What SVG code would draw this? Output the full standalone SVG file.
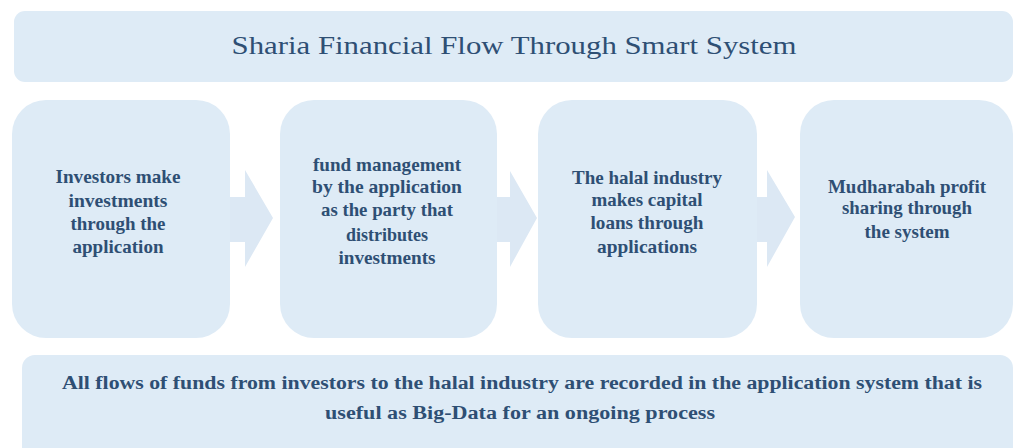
<svg xmlns="http://www.w3.org/2000/svg" width="1015" height="448" viewBox="0 0 1015 448">
<style>
.box{fill:#deebf6;}
.arr{fill:#dce8f4;}
.t{font-family:'Liberation Serif','Times New Roman',Tinos,serif;fill:#2e4f74;text-anchor:middle;}
.nt{font-size:19px;font-weight:bold;}
.title{font-size:25px;}
.bt{font-size:18.5px;font-weight:bold;}
</style>
<rect width="1015" height="448" fill="#ffffff"/>
<g id="title">
<rect class="box" x="14" y="11" width="999" height="71" rx="11"/>
<text class="t title" x="514" y="54" textLength="565" lengthAdjust="spacingAndGlyphs">Sharia Financial Flow Through Smart System</text>
</g>
<g id="connectors">
<polygon class="arr" points="230,197 245,197 245,170 273,218 245,267 245,242 230,242"/>
<polygon class="arr" points="497,197 510,197 510,171 537,218 510,267 510,242 497,242"/>
<polygon class="arr" points="757,197 767,197 767,170 795,217 767,267 767,242 757,242"/>
</g>
<g id="node1">
<rect class="box" x="12" y="100" width="218" height="238" rx="34"/>
<text class="t nt" x="118" y="183" textLength="125" lengthAdjust="spacingAndGlyphs">Investors make</text>
<text class="t nt" x="118" y="207" textLength="99" lengthAdjust="spacingAndGlyphs">investments</text>
<text class="t nt" x="118" y="230" textLength="95" lengthAdjust="spacingAndGlyphs">through the</text>
<text class="t nt" x="118" y="253" textLength="91" lengthAdjust="spacingAndGlyphs">application</text>
</g>
<g id="node2">
<rect class="box" x="280" y="100" width="217" height="238" rx="34"/>
<text class="t nt" x="387" y="171" textLength="148" lengthAdjust="spacingAndGlyphs">fund management</text>
<text class="t nt" x="387" y="193" textLength="150" lengthAdjust="spacingAndGlyphs">by the application</text>
<text class="t nt" x="387" y="216" textLength="132" lengthAdjust="spacingAndGlyphs">as the party that</text>
<text class="t nt" x="387" y="241" textLength="82" lengthAdjust="spacingAndGlyphs">distributes</text>
<text class="t nt" x="387" y="264" textLength="97" lengthAdjust="spacingAndGlyphs">investments</text>
</g>
<g id="node3">
<rect class="box" x="538" y="100" width="219" height="238" rx="34"/>
<text class="t nt" x="647" y="184" textLength="150" lengthAdjust="spacingAndGlyphs">The halal industry</text>
<text class="t nt" x="647" y="206" textLength="111" lengthAdjust="spacingAndGlyphs">makes capital</text>
<text class="t nt" x="647" y="229" textLength="113" lengthAdjust="spacingAndGlyphs">loans through</text>
<text class="t nt" x="647" y="253" textLength="100" lengthAdjust="spacingAndGlyphs">applications</text>
</g>
<g id="node4">
<rect class="box" x="800" y="100" width="213" height="238" rx="34"/>
<text class="t nt" x="907" y="193" textLength="158" lengthAdjust="spacingAndGlyphs">Mudharabah profit</text>
<text class="t nt" x="907" y="214" textLength="130" lengthAdjust="spacingAndGlyphs">sharing through</text>
<text class="t nt" x="907" y="238" textLength="85" lengthAdjust="spacingAndGlyphs">the system</text>
</g>
<g id="note">
<rect class="box" x="22" y="355" width="991" height="110" rx="13"/>
<text class="t bt" x="522" y="389" textLength="920" lengthAdjust="spacingAndGlyphs">All flows of funds from investors to the halal industry are recorded in the application system that is</text>
<text class="t bt" x="520" y="419" textLength="390" lengthAdjust="spacingAndGlyphs">useful as Big-Data for an ongoing process</text>
</g>
</svg>
